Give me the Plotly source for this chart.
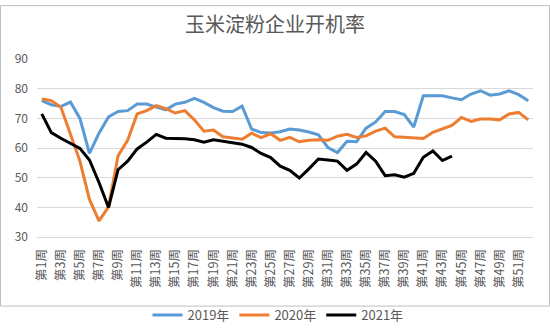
import plotly.graph_objects as go

weeks = [f"第{i}周" for i in range(1, 53)]
tick_labels = [f"第{i}周" for i in range(1, 53, 2)]

y2019 = [76.0, 74.6, 74.0, 75.5, 70.0, 58.2, 65.0, 70.5, 72.3, 72.6,
         74.8, 74.8, 73.8, 72.9, 74.8, 75.4, 76.7, 75.4, 73.6, 72.4,
         72.3, 74.1, 66.4, 65.2, 65.1, 65.5, 66.4, 66.1, 65.4, 64.5,
         60.2, 58.5, 62.3, 62.1, 66.7, 68.8, 72.3, 72.3, 71.3, 67.1,
         77.6, 77.6, 77.6, 76.9, 76.3, 78.2, 79.3, 77.8, 78.2, 79.3,
         78.0, 75.9]
y2020 = [76.5, 76.0, 73.8, 64.8, 55.6, 42.7, 35.5, 40.2, 57.4, 62.6,
         71.5, 72.6, 74.3, 73.3, 71.8, 72.6, 69.5, 65.7, 66.1, 63.8,
         63.3, 63.0, 65.0, 63.5, 64.8, 62.6, 63.6, 62.1, 62.6, 62.8,
         62.6, 64.0, 64.6, 63.6, 64.1, 65.7, 66.7, 63.8, 63.6, 63.4,
         63.2, 65.3, 66.4, 67.6, 70.3, 69.0, 69.8, 69.8, 69.5, 71.5,
         72.0, 69.5]
y2021 = [71.5, 65.2, 63.3, 61.5, 59.9, 56.0, 48.4, 40.0, 52.7, 55.6,
         59.7, 62.0, 64.6, 63.3, 63.3, 63.1, 62.8, 62.0, 62.8, 62.3,
         61.6, 61.3, 60.2, 58.2, 56.8, 53.9, 52.5, 49.9, 53.0, 56.3,
         56.0, 55.6, 52.5, 54.6, 58.5, 55.6, 50.7, 51.0, 50.2, 51.5,
         56.9, 59.0, 55.8, 57.3]

series = [("2019年", y2019, "#5B9BD5"),
          ("2020年", y2020, "#ED7D31"),
          ("2021年", y2021, "#000000")]

fig = go.Figure()
for name, vals, color in series:
    fig.add_trace(go.Scatter(x=weeks[:len(vals)], y=vals, name=name, mode="lines",
                             line=dict(color=color, width=3)))

L, R, T, B = 37, 17, 59, 76
W, H = 550, 330
pw, ph = W - L - R, H - T - B

fig.update_layout(
    width=W, height=H,
    margin=dict(l=L, r=R, t=T, b=B),
    paper_bgcolor="white", plot_bgcolor="white",
    font=dict(family="Noto Sans CJK SC, Noto Sans, sans-serif", color="#595959"),
    title=dict(text="玉米淀粉企业开机率", x=0.5, xanchor="center",
               y=1 - 25 / H, yanchor="middle",
               font=dict(size=20, color="#595959")),
    showlegend=True,
    legend=dict(orientation="h", x=(278 - L) / pw, xanchor="center",
                yref="container", y=1 - 315 / H, yanchor="middle",
                font=dict(size=13, color="#595959"), bgcolor="rgba(0,0,0,0)"),
    xaxis=dict(type="category", categoryorder="array", categoryarray=weeks,
               tickmode="array", tickvals=tick_labels, ticktext=tick_labels,
               tickangle=-90, tickfont=dict(size=12.5, color="#595959"),
               showgrid=False, showline=True, linecolor="#D9D9D9", linewidth=1,
               ticks="", ticklabelstandoff=6, range=[-0.5, 51.5]),
    yaxis=dict(range=[30, 90], dtick=10, tick0=30, showgrid=True, gridcolor="#D9D9D9",
               gridwidth=1, zeroline=False, showline=False, ticks="",
               tickfont=dict(size=12, color="#595959"), ticklabelstandoff=8),
    shapes=[dict(type="rect", xref="paper", yref="paper",
                 x0=(0.5 - L) / pw, x1=(W - 0.5 - L) / pw,
                 y0=(ph - (H - 0.5 - T)) / ph, y1=(ph - (0.5 - T)) / ph,
                 line=dict(color="#BFBFBF", width=1), layer="below")],
)

fig.write_html("out.html")
